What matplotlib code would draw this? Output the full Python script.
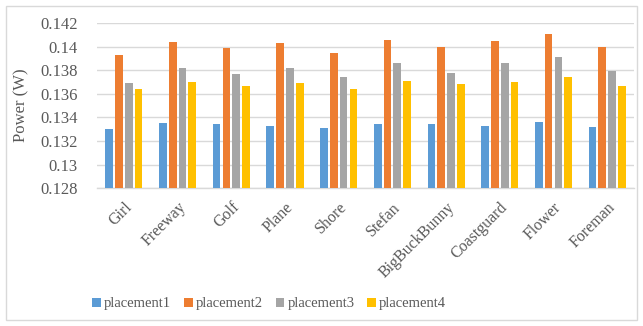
import matplotlib.pyplot as plt
import numpy as np
from matplotlib.patches import Rectangle

plt.rcParams['font.family'] = ['Liberation Serif', 'DejaVu Serif']

videos = ['Girl', 'Freeway', 'Golf', 'Plane', 'Shore', 'Stefan',
          'BigBuckBunny', 'Coastguard', 'Flower', 'Foreman']
placement1 = [0.1330, 0.1335, 0.1334, 0.1333, 0.1331, 0.1334, 0.1334, 0.1333, 0.1336, 0.1332]
placement2 = [0.1393, 0.1404, 0.1399, 0.1403, 0.1395, 0.1406, 0.1400, 0.1405, 0.1411, 0.1400]
placement3 = [0.1369, 0.1382, 0.1377, 0.1382, 0.1374, 0.1386, 0.1378, 0.1386, 0.1391, 0.1379]
placement4 = [0.1364, 0.1370, 0.1367, 0.1369, 0.1364, 0.1371, 0.1368, 0.1370, 0.1374, 0.1367]
series = ['placement1', 'placement2', 'placement3', 'placement4']
yticks = [0.128, 0.130, 0.132, 0.134, 0.136, 0.138, 0.140, 0.142]
ytick_labels = ['0.128', '0.13', '0.132', '0.134', '0.136', '0.138', '0.14', '0.142']

colors = ['#5B9BD5', '#ED7D31', '#A5A5A5', '#FFC000']
text_color = '#595959'
grid_color = '#D9D9D9'

fig = plt.figure(figsize=(6.43, 3.26), dpi=100)
ax = fig.add_axes([0.151, 0.423, 0.835, 0.506])

x = np.arange(len(videos))
pitch = 0.1825
for i, (vals, name) in enumerate(zip([placement1, placement2, placement3, placement4], series)):
    ax.bar(x + (i - 1.5) * pitch, vals, width=0.143, color=colors[i], label=name, zorder=3)

ax.set_xlim(-0.5, len(videos) - 0.5)
ax.set_ylim(0.128, 0.142)
ax.set_yticks(yticks)
ax.set_yticklabels(ytick_labels, fontsize=12, color=text_color)
ax.set_xticks(x)
ax.set_xticklabels(videos, rotation=45, ha='right', rotation_mode='anchor',
                   fontsize=11.5, color=text_color)
ax.tick_params(axis='both', length=0)
ax.tick_params(axis='y', pad=14)
ax.tick_params(axis='x', pad=8)
ax.set_ylabel('Power (W)', fontsize=12, color=text_color, labelpad=8)

ax.grid(axis='y', color=grid_color, linewidth=1, zorder=0)
for side in ['top', 'right', 'left']:
    ax.spines[side].set_visible(False)
ax.spines['bottom'].set_color(grid_color)
ax.spines['bottom'].set_linewidth(1)

fig.legend(loc='center', bbox_to_anchor=(269 / 643, 1 - 304 / 326), ncol=4, frameon=False,
           fontsize=10.5, handlelength=0.6, handleheight=0.6, handletextpad=0.2,
           columnspacing=0.9, labelcolor=text_color)

# thin frame around the whole chart
fig.patches.append(Rectangle((6 / 643, 6 / 326), 631 / 643, 314 / 326, transform=fig.transFigure,
                             fill=False, edgecolor=grid_color, linewidth=1))

fig.savefig('out.png', dpi=100)
